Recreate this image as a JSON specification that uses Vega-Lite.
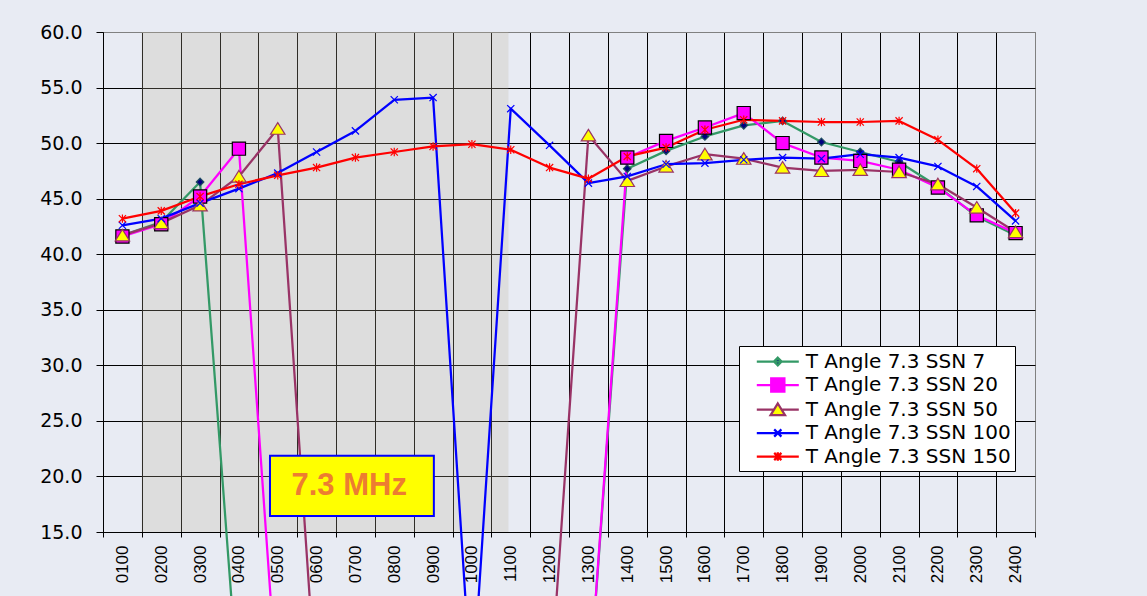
{
  "$schema": "https://vega.github.io/schema/vega-lite/v6.json",
  "width": 932,
  "height": 500,
  "autosize": {"type": "none"},
  "padding": {"left": 103, "top": 32, "right": 112, "bottom": 64},
  "background": "#e8ebf3",
  "datasets": {
    "ssn": [
      {"h":1,"s":"T Angle 7.3 SSN 7","v":41.7},{"h":2,"s":"T Angle 7.3 SSN 7","v":42.9},{"h":3,"s":"T Angle 7.3 SSN 7","v":46.5},{"h":4,"s":"T Angle 7.3 SSN 7","v":0},{"h":5,"s":"T Angle 7.3 SSN 7","v":0},{"h":6,"s":"T Angle 7.3 SSN 7","v":0},{"h":7,"s":"T Angle 7.3 SSN 7","v":0},{"h":8,"s":"T Angle 7.3 SSN 7","v":0},{"h":9,"s":"T Angle 7.3 SSN 7","v":0},{"h":10,"s":"T Angle 7.3 SSN 7","v":0},{"h":11,"s":"T Angle 7.3 SSN 7","v":0},{"h":12,"s":"T Angle 7.3 SSN 7","v":0},{"h":13,"s":"T Angle 7.3 SSN 7","v":0},{"h":14,"s":"T Angle 7.3 SSN 7","v":47.7},{"h":15,"s":"T Angle 7.3 SSN 7","v":49.3},{"h":16,"s":"T Angle 7.3 SSN 7","v":50.6},{"h":17,"s":"T Angle 7.3 SSN 7","v":51.6},{"h":18,"s":"T Angle 7.3 SSN 7","v":52.0},{"h":19,"s":"T Angle 7.3 SSN 7","v":50.1},{"h":20,"s":"T Angle 7.3 SSN 7","v":49.2},{"h":21,"s":"T Angle 7.3 SSN 7","v":48.3},{"h":22,"s":"T Angle 7.3 SSN 7","v":46.1},{"h":23,"s":"T Angle 7.3 SSN 7","v":43.4},{"h":24,"s":"T Angle 7.3 SSN 7","v":41.7},
      {"h":1,"s":"T Angle 7.3 SSN 20","v":41.6},{"h":2,"s":"T Angle 7.3 SSN 20","v":42.7},{"h":3,"s":"T Angle 7.3 SSN 20","v":45.2},{"h":4,"s":"T Angle 7.3 SSN 20","v":49.5},{"h":5,"s":"T Angle 7.3 SSN 20","v":0},{"h":6,"s":"T Angle 7.3 SSN 20","v":0},{"h":7,"s":"T Angle 7.3 SSN 20","v":0},{"h":8,"s":"T Angle 7.3 SSN 20","v":0},{"h":9,"s":"T Angle 7.3 SSN 20","v":0},{"h":10,"s":"T Angle 7.3 SSN 20","v":0},{"h":11,"s":"T Angle 7.3 SSN 20","v":0},{"h":12,"s":"T Angle 7.3 SSN 20","v":0},{"h":13,"s":"T Angle 7.3 SSN 20","v":0},{"h":14,"s":"T Angle 7.3 SSN 20","v":48.7},{"h":15,"s":"T Angle 7.3 SSN 20","v":50.2},{"h":16,"s":"T Angle 7.3 SSN 20","v":51.4},{"h":17,"s":"T Angle 7.3 SSN 20","v":52.7},{"h":18,"s":"T Angle 7.3 SSN 20","v":50.0},{"h":19,"s":"T Angle 7.3 SSN 20","v":48.7},{"h":20,"s":"T Angle 7.3 SSN 20","v":48.4},{"h":21,"s":"T Angle 7.3 SSN 20","v":47.6},{"h":22,"s":"T Angle 7.3 SSN 20","v":46.0},{"h":23,"s":"T Angle 7.3 SSN 20","v":43.5},{"h":24,"s":"T Angle 7.3 SSN 20","v":41.9},
      {"h":1,"s":"T Angle 7.3 SSN 50","v":41.7},{"h":2,"s":"T Angle 7.3 SSN 50","v":42.8},{"h":3,"s":"T Angle 7.3 SSN 50","v":44.4},{"h":4,"s":"T Angle 7.3 SSN 50","v":47.0},{"h":5,"s":"T Angle 7.3 SSN 50","v":51.3},{"h":6,"s":"T Angle 7.3 SSN 50","v":0},{"h":7,"s":"T Angle 7.3 SSN 50","v":0},{"h":8,"s":"T Angle 7.3 SSN 50","v":0},{"h":9,"s":"T Angle 7.3 SSN 50","v":0},{"h":10,"s":"T Angle 7.3 SSN 50","v":0},{"h":11,"s":"T Angle 7.3 SSN 50","v":0},{"h":12,"s":"T Angle 7.3 SSN 50","v":0},{"h":13,"s":"T Angle 7.3 SSN 50","v":50.7},{"h":14,"s":"T Angle 7.3 SSN 50","v":46.6},{"h":15,"s":"T Angle 7.3 SSN 50","v":47.9},{"h":16,"s":"T Angle 7.3 SSN 50","v":49.0},{"h":17,"s":"T Angle 7.3 SSN 50","v":48.6},{"h":18,"s":"T Angle 7.3 SSN 50","v":47.8},{"h":19,"s":"T Angle 7.3 SSN 50","v":47.5},{"h":20,"s":"T Angle 7.3 SSN 50","v":47.6},{"h":21,"s":"T Angle 7.3 SSN 50","v":47.4},{"h":22,"s":"T Angle 7.3 SSN 50","v":46.3},{"h":23,"s":"T Angle 7.3 SSN 50","v":44.2},{"h":24,"s":"T Angle 7.3 SSN 50","v":42.0},
      {"h":1,"s":"T Angle 7.3 SSN 100","v":42.6},{"h":2,"s":"T Angle 7.3 SSN 100","v":43.2},{"h":3,"s":"T Angle 7.3 SSN 100","v":44.6},{"h":4,"s":"T Angle 7.3 SSN 100","v":45.9},{"h":5,"s":"T Angle 7.3 SSN 100","v":47.3},{"h":6,"s":"T Angle 7.3 SSN 100","v":49.2},{"h":7,"s":"T Angle 7.3 SSN 100","v":51.1},{"h":8,"s":"T Angle 7.3 SSN 100","v":53.9},{"h":9,"s":"T Angle 7.3 SSN 100","v":54.1},{"h":10,"s":"T Angle 7.3 SSN 100","v":0},{"h":11,"s":"T Angle 7.3 SSN 100","v":53.1},{"h":12,"s":"T Angle 7.3 SSN 100","v":49.8},{"h":13,"s":"T Angle 7.3 SSN 100","v":46.4},{"h":14,"s":"T Angle 7.3 SSN 100","v":47.0},{"h":15,"s":"T Angle 7.3 SSN 100","v":48.1},{"h":16,"s":"T Angle 7.3 SSN 100","v":48.2},{"h":17,"s":"T Angle 7.3 SSN 100","v":48.5},{"h":18,"s":"T Angle 7.3 SSN 100","v":48.7},{"h":19,"s":"T Angle 7.3 SSN 100","v":48.6},{"h":20,"s":"T Angle 7.3 SSN 100","v":49.0},{"h":21,"s":"T Angle 7.3 SSN 100","v":48.7},{"h":22,"s":"T Angle 7.3 SSN 100","v":47.9},{"h":23,"s":"T Angle 7.3 SSN 100","v":46.1},{"h":24,"s":"T Angle 7.3 SSN 100","v":43.0},
      {"h":1,"s":"T Angle 7.3 SSN 150","v":43.2},{"h":2,"s":"T Angle 7.3 SSN 150","v":43.9},{"h":3,"s":"T Angle 7.3 SSN 150","v":45.2},{"h":4,"s":"T Angle 7.3 SSN 150","v":46.3},{"h":5,"s":"T Angle 7.3 SSN 150","v":47.1},{"h":6,"s":"T Angle 7.3 SSN 150","v":47.8},{"h":7,"s":"T Angle 7.3 SSN 150","v":48.7},{"h":8,"s":"T Angle 7.3 SSN 150","v":49.2},{"h":9,"s":"T Angle 7.3 SSN 150","v":49.7},{"h":10,"s":"T Angle 7.3 SSN 150","v":49.9},{"h":11,"s":"T Angle 7.3 SSN 150","v":49.4},{"h":12,"s":"T Angle 7.3 SSN 150","v":47.8},{"h":13,"s":"T Angle 7.3 SSN 150","v":46.8},{"h":14,"s":"T Angle 7.3 SSN 150","v":48.8},{"h":15,"s":"T Angle 7.3 SSN 150","v":49.6},{"h":16,"s":"T Angle 7.3 SSN 150","v":51.2},{"h":17,"s":"T Angle 7.3 SSN 150","v":52.1},{"h":18,"s":"T Angle 7.3 SSN 150","v":52.0},{"h":19,"s":"T Angle 7.3 SSN 150","v":51.9},{"h":20,"s":"T Angle 7.3 SSN 150","v":51.9},{"h":21,"s":"T Angle 7.3 SSN 150","v":52.0},{"h":22,"s":"T Angle 7.3 SSN 150","v":50.3},{"h":23,"s":"T Angle 7.3 SSN 150","v":47.7},{"h":24,"s":"T Angle 7.3 SSN 150","v":43.7}
    ],
    "shade": [{"h": 1.5, "h2": 10.94, "v": 15, "v2": 60}],
    "notebox": [{"h": 4.8, "h2": 9.02, "v": 16.44, "v2": 21.87}],
    "notetext": [{"h": 6.84, "v": 18.3, "label": "7.3 MHz"}]
  },
  "layer": [
    {
      "data": {"name": "shade"},
      "mark": {"type": "rect", "fill": "#bcb39b", "fillOpacity": 0.25},
      "encoding": {
        "x": {
          "field": "h", "type": "quantitative",
          "scale": {"domain": [0.5, 24.5], "nice": false, "zero": false},
          "axis": {
            "title": null,
            "values": [0.5,1.5,2.5,3.5,4.5,5.5,6.5,7.5,8.5,9.5,10.5,11.5,12.5,13.5,14.5,15.5,16.5,17.5,18.5,19.5,20.5,21.5,22.5,23.5,24.5],
            "tickCount": 40,
            "labelExpr": "datum.value < 24 ? ((datum.value < 9.5 ? '0' : '') + (datum.value + 0.5) + '00') : ''",
            "labelAngle": 270,
            "labelOffset": 19.4,
            "labelPadding": 8,
            "labelFont": "Liberation Sans",
            "labelFontSize": 17,
            "labelOverlap": false,
            "labelFlush": false,
            "labelBound": false,
            "tickSize": 5,
            "grid": true,
            "gridColor": {"condition": {"test": "datum.value == 24.5", "value": "#808080"}, "value": "black"}
          }
        },
        "x2": {"field": "h2"},
        "y": {
          "field": "v", "type": "quantitative",
          "scale": {"domain": [15, 60], "nice": false, "zero": false},
          "axis": {
            "title": null,
            "values": [15,20,25,30,35,40,45,50,55,60],
            "tickCount": 20,
            "format": ".1f",
            "labelFont": "DejaVu Sans",
            "labelFontSize": 19,
            "labelPadding": 14,
            "tickSize": 7,
            "grid": true,
            "gridColor": {"condition": {"test": "datum.value == 60", "value": "#808080"}, "value": "black"}
          }
        },
        "y2": {"field": "v2"}
      }
    },
    {
      "data": {"name": "ssn"},
      "mark": {"type": "line", "strokeWidth": 2.25, "strokeJoin": "round"},
      "encoding": {
        "x": {"field": "h", "type": "quantitative", "title": null},
        "y": {"field": "v", "type": "quantitative", "title": null},
        "stroke": {
          "field": "s", "type": "nominal", "legend": null,
          "scale": {
            "domain": ["T Angle 7.3 SSN 7","T Angle 7.3 SSN 20","T Angle 7.3 SSN 50","T Angle 7.3 SSN 100","T Angle 7.3 SSN 150"],
            "range": ["#339966","#ff00ff","#993366","#0000ff","#ff0000"]
          }
        }
      }
    },
    {
      "data": {"name": "ssn"},
      "mark": {"type": "point", "filled": true, "opacity": 1, "size": 400, "strokeWidth": 1.2},
      "encoding": {
        "x": {"field": "h", "type": "quantitative", "title": null},
        "y": {"field": "v", "type": "quantitative", "title": null},
        "shape": {
          "field": "s", "type": "nominal", "legend": null,
          "scale": {
            "domain": ["T Angle 7.3 SSN 7","T Angle 7.3 SSN 20","T Angle 7.3 SSN 50","T Angle 7.3 SSN 100","T Angle 7.3 SSN 150"],
            "range": [
              "M0,-0.38L0.38,0L0,0.38L-0.38,0Z",
              "M-0.66,-0.66H0.66V0.66H-0.66Z",
              "M0,-0.6L0.72,0.56L-0.72,0.56Z",
              "M-0.36,-0.36L0.36,0.36M-0.36,0.36L0.36,-0.36",
              "M-0.36,-0.36L0.36,0.36M-0.36,0.36L0.36,-0.36M0,-0.42V0.42"
            ]
          }
        },
        "fill": {
          "field": "s", "type": "nominal", "legend": null,
          "scale": {
            "domain": ["T Angle 7.3 SSN 7","T Angle 7.3 SSN 20","T Angle 7.3 SSN 50","T Angle 7.3 SSN 100","T Angle 7.3 SSN 150"],
            "range": ["#000080","#ff00ff","#ffff00","#0000ff","#ff0000"]
          }
        },
        "stroke": {
          "field": "s", "type": "nominal", "legend": null,
          "scale": {
            "domain": ["T Angle 7.3 SSN 7","T Angle 7.3 SSN 20","T Angle 7.3 SSN 50","T Angle 7.3 SSN 100","T Angle 7.3 SSN 150"],
            "range": ["#1f4f5f","#000000","#993366","#0000ff","#ff0000"]
          }
        }
      }
    },
    {
      "data": {"name": "notebox"},
      "mark": {"type": "rect", "fill": "#ffff00", "stroke": "#0000ff", "strokeWidth": 2},
      "encoding": {
        "x": {"field": "h", "type": "quantitative", "title": null},
        "x2": {"field": "h2"},
        "y": {"field": "v", "type": "quantitative", "title": null},
        "y2": {"field": "v2"}
      }
    },
    {
      "data": {"name": "notetext"},
      "mark": {"type": "text", "font": "Liberation Sans", "fontWeight": "bold", "fontSize": 31, "fill": "#ed7d31", "align": "center", "baseline": "alphabetic"},
      "encoding": {
        "x": {"field": "h", "type": "quantitative", "title": null},
        "y": {"field": "v", "type": "quantitative", "title": null},
        "text": {"field": "label"}
      }
    },
    {
      "data": {"name": "ssn"},
      "transform": [{"filter": "datum.v > 1000"}],
      "mark": {"type": "point", "filled": true, "opacity": 1, "size": 400, "strokeWidth": 2.25},
      "encoding": {
        "x": {"field": "h", "type": "quantitative", "title": null},
        "y": {"field": "v", "type": "quantitative", "title": null},
        "shape": {
          "field": "s", "type": "nominal",
          "scale": {
            "domain": ["T Angle 7.3 SSN 7","T Angle 7.3 SSN 20","T Angle 7.3 SSN 50","T Angle 7.3 SSN 100","T Angle 7.3 SSN 150"],
            "range": [
              "M-2.1,0H2.1M0,-0.38L0.38,0L0,0.38L-0.38,0Z",
              "M-2.1,0H-0.66M0.66,0H2.1M-0.66,-0.66H0.66V0.66H-0.66Z",
              "M-2.1,0H-0.38M0.38,0H2.1M0,-0.6L0.72,0.56L-0.72,0.56Z",
              "M-2.1,0H2.1M-0.36,-0.36L0.36,0.36M-0.36,0.36L0.36,-0.36",
              "M-2.1,0H2.1M-0.36,-0.36L0.36,0.36M-0.36,0.36L0.36,-0.36M0,-0.42V0.42"
            ]
          },
          "legend": {"title": null, "orient": "none", "legendX": 636, "legendY": 314, "padding": 4, "rowPadding": 1.5, "symbolSize": 400, "symbolStrokeWidth": 2.25, "symbolOffset": 23.3, "labelOffset": 16.5, "labelFont": "DejaVu Sans", "labelFontSize": 20, "labelColor": "black", "labelLimit": 400, "fillColor": "white", "strokeColor": "black", "symbolOpacity": 1}
        },
        "fill": {
          "field": "s", "type": "nominal",
          "scale": {
            "domain": ["T Angle 7.3 SSN 7","T Angle 7.3 SSN 20","T Angle 7.3 SSN 50","T Angle 7.3 SSN 100","T Angle 7.3 SSN 150"],
            "range": ["#000080","#ff00ff","#ffff00","#0000ff","#ff0000"]
          },
          "legend": {"title": null, "orient": "none", "legendX": 636, "legendY": 314, "padding": 4, "rowPadding": 1.5, "symbolSize": 400, "symbolStrokeWidth": 2.25, "symbolOffset": 23.3, "labelOffset": 16.5, "labelFont": "DejaVu Sans", "labelFontSize": 20, "labelColor": "black", "labelLimit": 400, "fillColor": "white", "strokeColor": "black", "symbolOpacity": 1}
        },
        "stroke": {
          "field": "s", "type": "nominal",
          "scale": {
            "domain": ["T Angle 7.3 SSN 7","T Angle 7.3 SSN 20","T Angle 7.3 SSN 50","T Angle 7.3 SSN 100","T Angle 7.3 SSN 150"],
            "range": ["#339966","#ff00ff","#993366","#0000ff","#ff0000"]
          },
          "legend": {"title": null, "orient": "none", "legendX": 636, "legendY": 314, "padding": 4, "rowPadding": 1.5, "symbolSize": 400, "symbolStrokeWidth": 2.25, "symbolOffset": 23.3, "labelOffset": 16.5, "labelFont": "DejaVu Sans", "labelFontSize": 20, "labelColor": "black", "labelLimit": 400, "fillColor": "white", "strokeColor": "black", "symbolOpacity": 1}
        }
      }
    }
  ],
  "resolve": {"scale": {"stroke": "independent", "fill": "independent", "shape": "independent"}},
  "config": {
    "view": {"stroke": "#808080", "strokeWidth": 1},
    "axis": {"domainColor": "black", "domainWidth": 1, "tickColor": "black", "tickWidth": 1, "labelColor": "black", "gridWidth": 1}
  }
}
